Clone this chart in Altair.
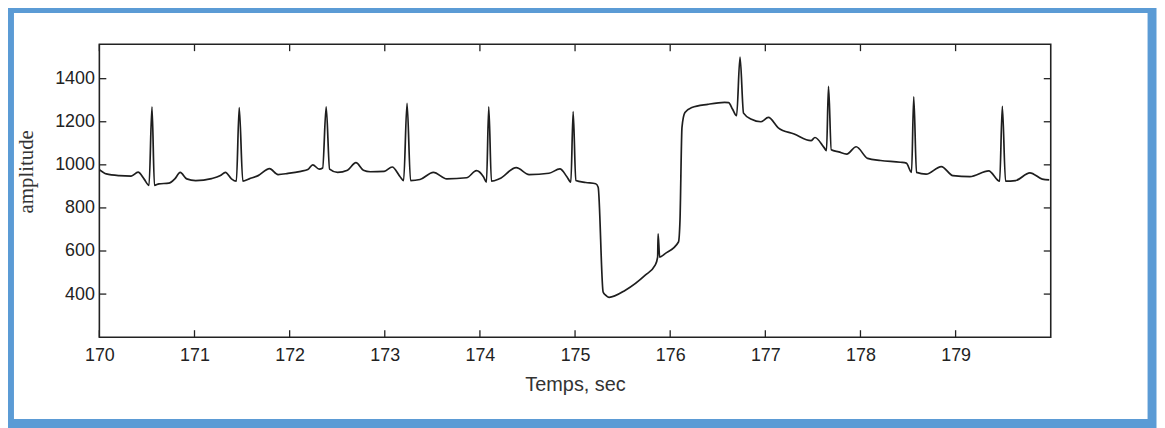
import altair as alt
import pandas as pd

# ECG-like trace (time in s, amplitude)
times = [
    170.000, 170.073, 170.209, 170.334, 170.407, 170.469, 170.522, 170.553, 170.579, 170.626,
    170.730, 170.793, 170.850, 170.918, 171.012, 171.179, 171.273, 171.325, 171.388, 171.440,
    171.470, 171.508, 171.575, 171.669, 171.789, 171.878, 171.982, 172.118, 172.191, 172.243,
    172.311, 172.347, 172.384, 172.420, 172.504, 172.608, 172.697, 172.775, 172.848, 172.994,
    173.078, 173.161, 173.198, 173.234, 173.271, 173.370, 173.511, 173.652, 173.860, 173.964,
    174.037, 174.069, 174.093, 174.121, 174.204, 174.382, 174.517, 174.726, 174.841, 174.914,
    174.956, 174.980, 175.008, 175.112, 175.217, 175.243, 175.295, 175.321, 175.357, 175.529,
    175.738, 175.842, 175.868, 175.873, 175.889, 175.947, 176.087, 176.103, 176.124, 176.155,
    176.228, 176.395, 176.572, 176.614, 176.656, 176.698, 176.734, 176.771, 176.854, 176.953,
    177.032, 177.136, 177.303, 177.480, 177.522, 177.616, 177.643, 177.664, 177.693, 177.772,
    177.856, 177.955, 178.075, 178.211, 178.420, 178.482, 178.537, 178.560, 178.589, 178.690,
    178.850, 178.972, 179.150, 179.348, 179.463, 179.491, 179.525, 179.630, 179.781, 179.911,
    179.984,
]
amplitudes = [
    978, 958, 950, 948, 966, 935, 905, 1269, 905, 912,
    915, 935, 965, 935, 927, 936, 950, 965, 935, 924,
    1266, 924, 935, 950, 982, 955, 960, 970, 978, 1000,
    980, 985, 1269, 980, 965, 975, 1010, 975, 968, 970,
    990, 945, 927, 1285, 927, 932, 965, 935, 940, 973,
    945, 920, 1269, 924, 935, 987, 955, 961, 981, 945,
    920, 1247, 927, 918, 912, 896, 410, 395, 385, 418,
    488, 534, 572, 680, 572, 588, 642, 742, 1174, 1243,
    1266, 1281, 1290, 1289, 1258, 1228, 1500, 1240, 1212, 1200,
    1220, 1172, 1143, 1112, 1127, 1081, 1066, 1364, 1070, 1060,
    1050, 1084, 1030, 1020, 1012, 1008, 965, 1316, 965, 957,
    992, 950, 945, 972, 924, 1272, 924, 927, 963, 934,
    930,
]

x_ticks = [170, 171, 172, 173, 174, 175, 176, 177, 178, 179]
y_ticks = [400, 600, 800, 1000, 1200, 1400]
x_domain = [170, 180]
y_domain = [200, 1560]

W, H = 958, 295
TICK = 7
FONT = "Liberation Sans"

df = pd.DataFrame({"t": times, "v": amplitudes})
dfx = pd.DataFrame({"t": x_ticks})
dfy = pd.DataFrame({"v": y_ticks})

x_axis = alt.Axis(
    values=x_ticks, format="d", tickSize=0, domain=False, grid=False, labelFlush=False,
    labelFont=FONT, labelFontSize=18, labelColor="#222", labelPadding=9,
    title="Temps, sec", titleFont=FONT, titleFontSize=20, titleFontWeight="normal",
    titleColor="#333", titlePadding=11,
)
y_axis = alt.Axis(
    values=y_ticks, format="d", tickSize=0, domain=False, grid=False, labelFlush=False,
    labelFont=FONT, labelFontSize=18, labelColor="#222", labelPadding=5,
    title="amplitude", titleFont="Liberation Serif", titleFontSize=21,
    titleFontWeight="normal", titleColor="#333", titleX=-73, titleY=128,
    titleAlign="center", titleBaseline="middle", titleAngle=270,
)

def X():
    return alt.X("t:Q", scale=alt.Scale(domain=x_domain, nice=False, zero=False), axis=x_axis)

def Y():
    return alt.Y("v:Q", scale=alt.Scale(domain=y_domain, nice=False, zero=False), axis=y_axis)

line = alt.Chart(df).mark_line(
    color="#1e1e1e", strokeWidth=1.7, strokeJoin="round", interpolate="monotone"
).encode(x=X(), y=Y())

xt_bottom = alt.Chart(dfx).mark_rule(color="#222", strokeWidth=1.3).encode(
    x=X(), y=alt.value(H), y2=alt.value(H - TICK)
)
xt_top = alt.Chart(dfx).mark_rule(color="#222", strokeWidth=1.3).encode(
    x=X(), y=alt.value(0), y2=alt.value(TICK)
)
yt_left = alt.Chart(dfy).mark_rule(color="#222", strokeWidth=1.3).encode(
    y=Y(), x=alt.value(0), x2=alt.value(TICK)
)
yt_right = alt.Chart(dfy).mark_rule(color="#222", strokeWidth=1.3).encode(
    y=Y(), x=alt.value(W), x2=alt.value(W - TICK)
)

frame = alt.Chart(alt.Data(values=[{}])).mark_rect(
    filled=False, stroke="#5B9BD5", strokeWidth=9
).encode(
    x=alt.value(-90.5), x2=alt.value(1060), y=alt.value(-36), y2=alt.value(382)
)

chart = alt.layer(frame, line, xt_bottom, xt_top, yt_left, yt_right).properties(
    width=W, height=H,
    padding={"left": 92, "top": 35, "right": 107, "bottom": 90},
    autosize=alt.AutoSizeParams(type="none"),
    background="white",
).configure_view(stroke="#222", strokeWidth=1.6)

chart.save("out.html", embed_options={"renderer": "svg", "actions": False})
